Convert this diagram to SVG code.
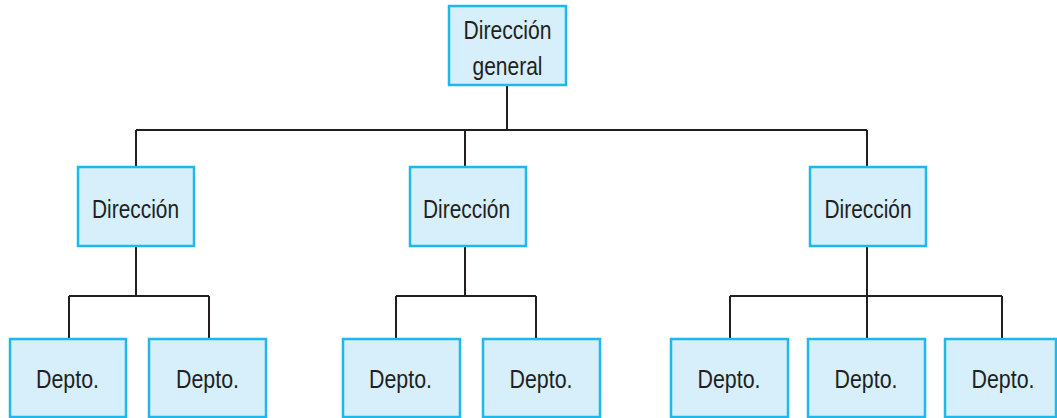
<svg xmlns="http://www.w3.org/2000/svg" width="1057" height="418" viewBox="0 0 1057 418">
<style>
.box{fill:#d6effb;stroke:#1cb9ea;stroke-width:2.5}
.t{font-family:"Liberation Sans",Arial,sans-serif;font-size:25px;fill:#231f20;text-anchor:middle}
.c{fill:none;stroke:#231f20;stroke-width:2}
</style>
<rect width="1057" height="418" fill="#ffffff"/>
<g id="connectors">
<path class="c" d="M507 85V130M136 130H867M136 130V167M465 130V167M867 130V167"/>
<path class="c" d="M136 246V296M69 296H209M69 296V339M209 296V339"/>
<path class="c" d="M465 246V296M396 296H536M396 296V339M536 296V339"/>
<path class="c" d="M867 246V296M730 296H1002M730 296V339M867 296V339M1002 296V339"/>
</g>
<g id="root"><rect class="box" x="449" y="6" width="117" height="79"/><text class="t" x="507.5" y="39" textLength="88" lengthAdjust="spacingAndGlyphs">Dirección</text><text class="t" x="507.5" y="75" textLength="70" lengthAdjust="spacingAndGlyphs">general</text></g>
<g id="dir1"><rect class="box" x="78" y="167" width="116" height="79"/><text class="t" x="135.5" y="218" textLength="87" lengthAdjust="spacingAndGlyphs">Dirección</text></g>
<g id="dir2"><rect class="box" x="410" y="167" width="116" height="79"/><text class="t" x="466.5" y="218" textLength="87" lengthAdjust="spacingAndGlyphs">Dirección</text></g>
<g id="dir3"><rect class="box" x="810" y="167" width="116" height="79"/><text class="t" x="868" y="218" textLength="87" lengthAdjust="spacingAndGlyphs">Dirección</text></g>
<g id="d1"><rect class="box" x="10" y="339" width="116" height="78"/><text class="t" x="67.5" y="388" textLength="63" lengthAdjust="spacingAndGlyphs">Depto.</text></g>
<g id="d2"><rect class="box" x="149" y="339" width="117" height="78"/><text class="t" x="207.5" y="388" textLength="63" lengthAdjust="spacingAndGlyphs">Depto.</text></g>
<g id="d3"><rect class="box" x="343" y="339" width="117" height="78"/><text class="t" x="400.5" y="388" textLength="63" lengthAdjust="spacingAndGlyphs">Depto.</text></g>
<g id="d4"><rect class="box" x="483" y="339" width="117" height="78"/><text class="t" x="541" y="388" textLength="63" lengthAdjust="spacingAndGlyphs">Depto.</text></g>
<g id="d5"><rect class="box" x="671" y="339" width="117" height="78"/><text class="t" x="729" y="388" textLength="63" lengthAdjust="spacingAndGlyphs">Depto.</text></g>
<g id="d6"><rect class="box" x="808" y="339" width="117" height="78"/><text class="t" x="866" y="388" textLength="63" lengthAdjust="spacingAndGlyphs">Depto.</text></g>
<g id="d7"><rect class="box" x="945" y="339" width="111" height="78"/><text class="t" x="1003" y="388" textLength="63" lengthAdjust="spacingAndGlyphs">Depto.</text></g>
</svg>
